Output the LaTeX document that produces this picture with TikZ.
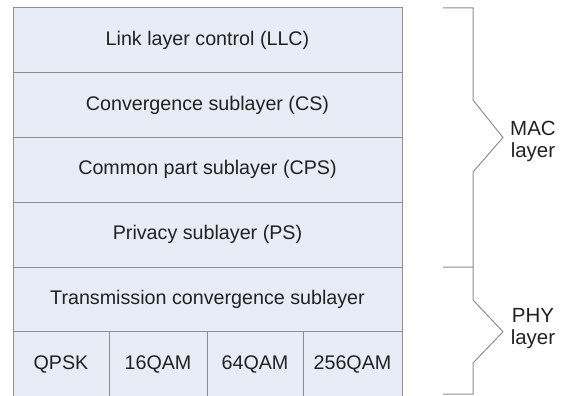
\documentclass[tikz,border=0pt]{standalone}
\usepackage{fontspec}
\setmainfont{Liberation Sans}
\definecolor{rowfill}{HTML}{E7ECF6}
\definecolor{edge}{HTML}{8E8E8E}
\definecolor{txt}{HTML}{222222}
\begin{document}
\begin{tikzpicture}[x=1pt,y=1pt,
  rowbox/.style={draw=edge, fill=rowfill, line width=1pt, anchor=north west,
    minimum height=64.75pt, inner sep=0pt, outer sep=0pt, text=txt,
    font=\fontsize{19.7}{22}\selectfont},
  wide/.style={rowbox, minimum width=389pt},
  brace/.style={draw=edge, line width=1pt, line join=miter},
  lbl/.style={align=center, text=txt, font=\fontsize{20.5}{22}\selectfont, inner sep=0pt}]
\useasboundingbox (0,0) rectangle (566,-396);
\node[wide] (llc) at (13,-8) {Link layer control (LLC)};
\node[wide] (cs) at (13,-72.75) {Convergence sublayer (CS)};
\node[wide] (cps) at (13,-137.5) {Common part sublayer (CPS)};
\node[wide] (ps) at (13,-202.25) {Privacy sublayer (PS)};
\node[wide] (tc) at (13,-267) {Transmission convergence sublayer};
\node[rowbox, minimum width=96pt] (qpsk) at (13,-331.75) {QPSK};
\node[rowbox, minimum width=98pt] (q16) at (109,-331.75) {16QAM};
\node[rowbox, minimum width=96pt] (q64) at (207,-331.75) {64QAM};
\node[rowbox, minimum width=99pt] (q256) at (303,-331.75) {256QAM};
\draw[brace] (443,-8) -- (473,-8) -- (473,-100) -- (503,-137.5) -- (473,-172) -- (473,-267) -- (443,-267);
\draw[brace] (473,-267) -- (473,-300) -- (503,-331.75) -- (473,-363) -- (473,-394) -- (443,-394);
\node[lbl] (mac) at (533,-141) {MAC\\layer};
\node[lbl] (phy) at (533,-329) {PHY\\layer};
\end{tikzpicture}
\end{document}
